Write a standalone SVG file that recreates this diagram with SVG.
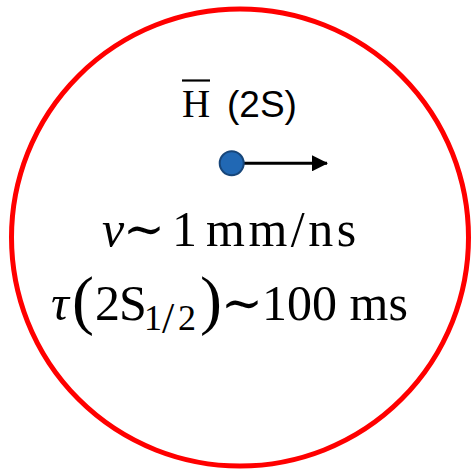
<svg xmlns="http://www.w3.org/2000/svg" width="472" height="472" viewBox="0 0 472 472">
<style>
.serif{font-family:"Liberation Serif","DejaVu Serif",serif;fill:#000}
.sans{font-family:"Liberation Sans","DejaVu Sans",sans-serif;fill:#000}
.it{font-style:italic}
.op{text-anchor:middle}
.sub{font-size:36px}
.big{font-size:66px}
</style>
<defs>
<marker id="ah" markerUnits="userSpaceOnUse" markerWidth="16" markerHeight="16" refX="15" refY="8" orient="auto">
<path d="M0,0 L16,8 L0,16 Z" fill="#000"/>
</marker>
</defs>
<rect width="472" height="472" fill="#fff"/>
<g id="trap">
<circle cx="240" cy="237.5" r="228.5" fill="none" stroke="#ff0000" stroke-width="5"/>
</g>
<g id="connectors">
<line x1="243" y1="163.3" x2="327" y2="163.3" stroke="#000" stroke-width="3" marker-end="url(#ah)"/>
</g>
<g id="antihydrogen">
<circle cx="231.7" cy="163.3" r="12" fill="#2168b4" stroke="#17467a" stroke-width="2"/>
</g>
<g id="label-title">
<text class="serif" x="182" y="117" font-size="39">H</text>
<line x1="182" y1="80.5" x2="210" y2="80.5" stroke="#000" stroke-width="2.2"/>
<text class="sans" x="227" y="117" font-size="37">(2S)</text>
</g>
<g id="label-velocity">
<text class="serif" font-size="50" y="246"><tspan class="it" x="102">v</tspan><tspan class="op" x="144">∼</tspan><tspan x="172">1</tspan><tspan x="206" letter-spacing="3.5">mm/ns</tspan></text>
</g>
<g id="label-lifetime">
<text class="serif" font-size="50" y="320"><tspan class="it" x="51">τ</tspan><tspan class="big" x="72" y="322">(</tspan><tspan x="95" y="320">2</tspan><tspan x="119">S</tspan><tspan class="sub" x="144" y="330">1</tspan><tspan font-size="44" x="162" y="333">/</tspan><tspan class="sub" x="178" y="330">2</tspan><tspan class="big" x="200" y="322">)</tspan><tspan class="op" x="242" y="320">∼</tspan><tspan x="262">100 ms</tspan></text>
</g>
</svg>
